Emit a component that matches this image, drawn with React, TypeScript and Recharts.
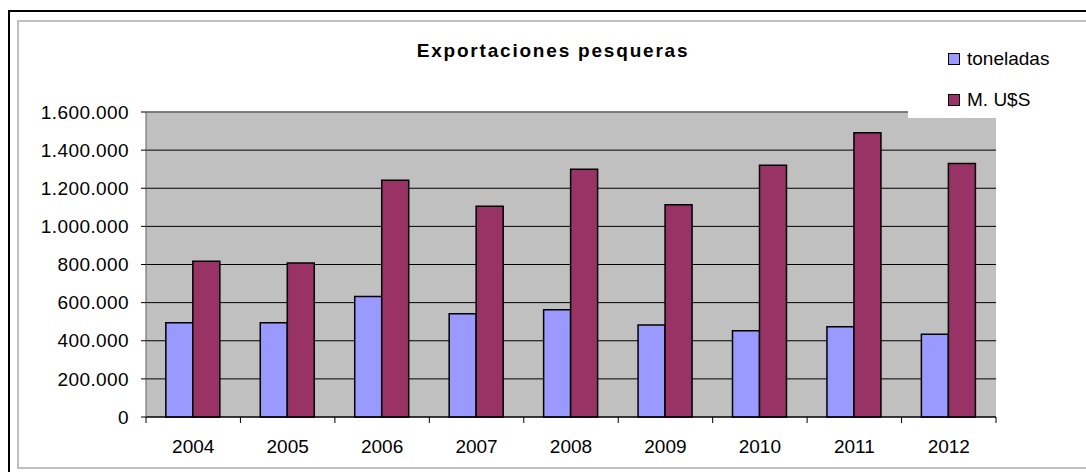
import { BarChart, Bar, XAxis, YAxis, CartesianGrid, Legend, ReferenceLine } from 'recharts';

const years = ['2004', '2005', '2006', '2007', '2008', '2009', '2010', '2011', '2012'];
const toneladas = [495000, 495000, 632000, 542000, 563000, 483000, 453000, 474000, 434000];
const musd = [817000, 808000, 1242000, 1105000, 1300000, 1114000, 1321000, 1491000, 1330000];
const yTicks = [0, 200000, 400000, 600000, 800000, 1000000, 1200000, 1400000, 1600000];

const series = [
  { key: 'toneladas', name: 'toneladas', color: '#9999ff' },
  { key: 'musd', name: 'M. U$S', color: '#993366' },
];

const data = years.map((y, i) => ({ year: y, toneladas: toneladas[i], musd: musd[i] }));

const FONT = '"Liberation Sans", Arial, sans-serif';

const fmt = (v: number) => String(v).replace(/\B(?=(\d{3})+(?!\d))/g, '.');

function YearTick(props: any) {
  const { x, y, payload, index, visibleTicksCount } = props;
  const half = payload.offset ?? 0;
  const last = index === visibleTicksCount - 1;
  return (
    <g>
      <line x1={x - half} x2={x - half} y1={y} y2={y + 6} stroke="#000" />
      {last && <line x1={x + half} x2={x + half} y1={y} y2={y + 6} stroke="#000" />}
      <text x={x} y={y + 23} dy="0.71em" textAnchor="middle" fill="#000" fontSize={19} fontFamily={FONT}>
        {payload.value}
      </text>
    </g>
  );
}

function LegendBox() {
  return (
    <div style={{ background: '#fff', width: 170, height: 90, paddingLeft: 40, boxSizing: 'border-box', paddingTop: 10 }}>
      {series.map((s) => (
        <div key={s.key} style={{ height: 41, display: 'flex', alignItems: 'center', fontFamily: FONT, fontSize: 19, color: '#000' }}>
          <span style={{ width: 10, height: 10, background: s.color, border: '1px solid #000', marginRight: 7, display: 'inline-block' }} />
          {s.name}
        </div>
      ))}
    </div>
  );
}

export default function App() {
  return (
    <div style={{ position: 'fixed', left: 0, top: 0, width: 1086, height: 472, overflow: 'hidden', background: '#fff' }}>
      {/* outer frames, cut by the right/bottom edge like the source */}
      <div style={{ position: 'absolute', left: 8, top: 10, width: 1076, height: 470, borderTop: '2px solid #000', borderLeft: '2px solid #000' }} />
      <div style={{ position: 'absolute', left: 17, top: 20, width: 1067, height: 445, borderTop: '2px solid #c0c0c0', borderLeft: '2px solid #c0c0c0', borderBottom: '2px solid #c0c0c0' }} />
      <div style={{ position: 'absolute', left: 353, top: 41, width: 400, textAlign: 'center', fontFamily: FONT, fontWeight: 'bold', fontSize: 19, lineHeight: '19px', letterSpacing: 1.8, color: '#000' }}>
        Exportaciones pesqueras
      </div>
      <div style={{ position: 'absolute', left: 8, top: 8 }}>
        <BarChart width={1078} height={464} data={data} margin={{ top: 104, right: 90, left: 0, bottom: 15 }} barCategoryGap="21%" barGap={0}>
          <CartesianGrid vertical={false} stroke="#000" fill="#c0c0c0" />
          <XAxis dataKey="year" height={40} tickLine={false} tickSize={0} tickMargin={0} axisLine={{ stroke: '#000' }} tick={<YearTick />} interval={0} />
          <YAxis
            domain={[0, 1600000]}
            ticks={yTicks}
            tickFormatter={fmt}
            width={138}
            tickSize={5}
            tickMargin={12}
            axisLine={{ stroke: '#606060' }}
            tickLine={{ stroke: '#000' }}
            tick={{ fill: '#000', fontSize: 19, fontFamily: FONT, letterSpacing: 0.4 }}
            interval={0}
          />
          <YAxis yAxisId="r" orientation="right" width={0} tick={false} tickLine={false} axisLine={{ stroke: '#808080' }} />
          <ReferenceLine y={1600000} stroke="#808080" strokeWidth={1.5} />
          {series.map((s) => (
            <Bar key={s.key} dataKey={s.key} name={s.name} fill={s.color} stroke="#000" strokeWidth={1.5} isAnimationActive={false} />
          ))}
          <Legend
            layout="vertical"
            align="center"
            verticalAlign="middle"
            content={<LegendBox />}
            wrapperStyle={{ left: 900, top: 20, width: 170, height: 90 }}
          />
        </BarChart>
      </div>
    </div>
  );
}
